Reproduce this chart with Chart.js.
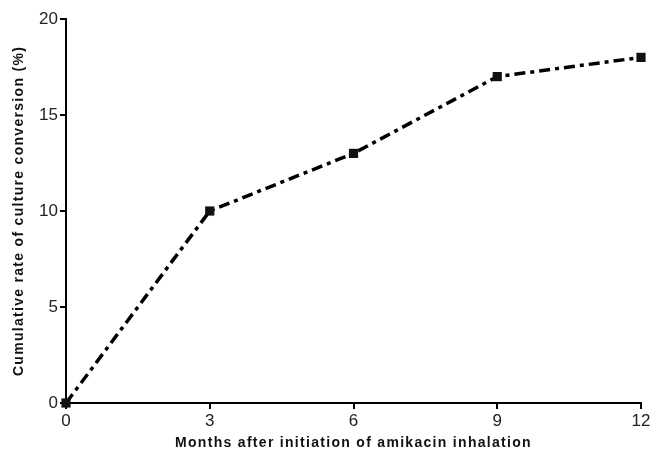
<!DOCTYPE html>
<html>
<head>
<meta charset="utf-8">
<script src="https://cdn.jsdelivr.net/npm/chart.js@4"></script>
<style>
  html, body { margin: 0; padding: 0; background: #fff; }
  #wrap { width: 655px; height: 453px; }
</style>
</head>
<body>
<div id="wrap"><canvas id="myChart" width="655" height="453"></canvas></div>
<script>
// months after start, cumulative conversion (%)
const months = [0, 3, 6, 9, 12];
const conversion = [0, 10, 13, 17, 18];
const xTicks = [0, 3, 6, 9, 12];
const yTicks = [0, 5, 10, 15, 20];
const xTitle = 'Months after initiation of amikacin inhalation';
const yTitle = 'Cumulative rate of culture conversion (%)';

const ctx = document.getElementById('myChart');

// axis titles drawn by hand so they can get the letter spacing of the original
const spacedTitles = {
  id: 'spacedTitles',
  afterDraw(chart) {
    const c = chart.ctx;
    const area = chart.chartArea;
    c.save();
    c.fillStyle = '#111';
    c.font = 'bold 14px "Liberation Sans", Arial, sans-serif';
    c.letterSpacing = '1.3px';
    c.textAlign = 'center';
    c.textBaseline = 'alphabetic';
    c.fillText(xTitle, (area.left + area.right) / 2, 447);
    c.translate(23, (area.top + area.bottom) / 2);
    c.rotate(-Math.PI / 2);
    c.fillText(yTitle, 0, 0);
    c.restore();
  }
};

new Chart(ctx, {
  type: 'line',
  data: {
    datasets: [{
      label: 'Cumulative rate',
      data: months.map((m, i) => ({ x: m, y: conversion[i] })),
      borderColor: '#000',
      backgroundColor: '#111',
      borderWidth: 3.5,
      borderDash: [11, 5, 4, 5],
      pointStyle: 'rect',
      pointRadius: 6.5,
      pointBorderWidth: 0,
      pointBackgroundColor: '#111',
      tension: 0,
      clip: false
    }]
  },
  options: {
    responsive: false,
    animation: false,
    layout: { padding: { left: 0, right: 14, top: 19, bottom: 0 } },
    plugins: { legend: { display: false }, tooltip: { enabled: false } },
    scales: {
      x: {
        type: 'linear',
        min: 0,
        max: 12,
        afterBuildTicks: s => { s.ticks = xTicks.map(v => ({ value: v })); },
        afterFit: s => { s.height = 50; },
        grid: { drawOnChartArea: false, color: '#000', tickLength: 6, lineWidth: 2 },
        border: { color: '#000', width: 2 },
        ticks: { color: '#222', font: { family: 'Liberation Sans', size: 17 }, padding: 2, maxRotation: 0 }
      },
      y: {
        min: 0,
        max: 20,
        afterBuildTicks: s => { s.ticks = yTicks.map(v => ({ value: v })); },
        afterFit: s => { s.width = 66; },
        grid: { drawOnChartArea: false, color: '#000', tickLength: 6, lineWidth: 2 },
        border: { color: '#000', width: 2 },
        ticks: { color: '#222', font: { family: 'Liberation Sans', size: 17 }, padding: 2 }
      }
    }
  },
  plugins: [spacedTitles]
});
</script>
</body>
</html>
